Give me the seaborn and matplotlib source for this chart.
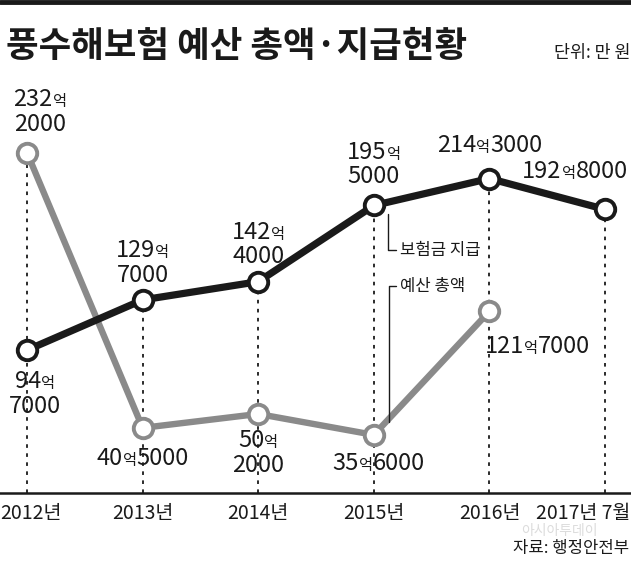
import numpy as np
import pandas as pd
import matplotlib.pyplot as plt
import matplotlib.transforms as mtransforms
import seaborn as sns
from matplotlib.offsetbox import TextArea, HPacker, VPacker, AnnotationBbox
from matplotlib.lines import Line2D

# data (unit: 억 원)
years = ['2012년', '2013년', '2014년', '2015년', '2016년', '2017년 7월']
payout = [94.7, 129.7, 142.4, 195.5, 214.3, 192.8]
budget = [232.2, 40.5, 50.2, 35.6, 121.7, np.nan]

df = pd.DataFrame({'x': range(len(years)), 'payout': payout, 'budget': budget})

sns.set_style('white')
plt.rcParams['font.family'] = ['Liberation Sans Narrow', 'Noto Sans CJK KR', 'DejaVu Sans']

fig = plt.figure(figsize=(6.31, 5.62), dpi=100)
ax = fig.add_axes([0, 1 - 493 / 562, 1, (493 - 90) / 562])

BLACK = '#1a1a1a'
GRAY = '#8a8a8a'

# dotted drop lines
for i in df.index:
    top = np.nanmax([df.payout[i], df.budget[i]])
    ax.plot([i, i], [-4.9, top], ls=(0, (2, 3)), color=BLACK, lw=1.3, zorder=1)

sns.lineplot(data=df, x='x', y='budget', color=GRAY, lw=4.6, ax=ax, zorder=2,
             marker='o', markersize=14, markerfacecolor='white',
             markeredgecolor=GRAY, markeredgewidth=2.8)
sns.lineplot(data=df, x='x', y='payout', color=BLACK, lw=5.2, ax=ax, zorder=3,
             marker='o', markersize=14, markerfacecolor='white',
             markeredgecolor=BLACK, markeredgewidth=2.8)

ax.set_xlim(-0.234, 5.225)
ax.set_ylim(-4.9, 276)
ax.set_xlabel('')
ax.set_ylabel('')
ax.set_yticks([])
ax.set_xticks(range(len(years)))
ax.set_xticklabels(years, fontsize=14, color=BLACK)
ax.tick_params(axis='x', length=0, pad=7)
labels = ax.get_xticklabels()
labels[0].set_horizontalalignment('left')
labels[0].set_transform(labels[0].get_transform() +
                        mtransforms.ScaledTranslation(-27 / 100, 0, fig.dpi_scale_trans))
labels[-1].set_horizontalalignment('right')
labels[-1].set_transform(labels[-1].get_transform() +
                         mtransforms.ScaledTranslation(25 / 100, 0, fig.dpi_scale_trans))
for s in ['top', 'left', 'right']:
    ax.spines[s].set_visible(False)
ax.spines['bottom'].set_linewidth(1.8)
ax.spines['bottom'].set_color(BLACK)


def value_label(x, y, val, dx, dy, two_lines):
    big = int(val)
    rest = int(round((val - big) * 10000))
    p_big = dict(fontsize=17, color=BLACK)
    p_small = dict(fontsize=11, color=BLACK)
    first = [TextArea(str(big), textprops=p_big), TextArea('억', textprops=p_small)]
    if two_lines:
        box = VPacker(children=[HPacker(children=first, align='baseline', pad=0, sep=0),
                                TextArea(str(rest), textprops=p_big)],
                      align='center', pad=0, sep=1)
    else:
        box = HPacker(children=first + [TextArea(str(rest), textprops=p_big)],
                      align='baseline', pad=0, sep=0)
    ab = AnnotationBbox(box, (x, y), xybox=(dx / 1.389, -dy / 1.389),
                        xycoords='data', boxcoords='offset points',
                        frameon=False, box_alignment=(0.5, 0.5), zorder=0)
    ax.add_artist(ab)


# (dx, dy in pixels, two lines)
payout_pos = [(8, 44, True), (0, -37, True), (0, -37, True),
              (0, -41, True), (0, -33, False), (-30, -38, False)]
budget_pos = [(13, -41, True), (0, 31, False), (0, 39, True),
              (5, 29, False), (48, 35, False)]

for i, (dx, dy, two) in enumerate(payout_pos):
    value_label(i, payout[i], payout[i], dx, dy, two)
for i, (dx, dy, two) in enumerate(budget_pos):
    value_label(i, budget[i], budget[i], dx, dy, two)


def fig_xy(px, py):
    return px / 631, 1 - py / 562


# series callouts
fig.add_artist(Line2D(*zip(fig_xy(388, 214), fig_xy(388, 250), fig_xy(396, 250)),
                      color=BLACK, lw=1))
fig.text(*fig_xy(400, 250), '보험금 지급', fontsize=12, va='center', color=BLACK)
fig.add_artist(Line2D(*zip(fig_xy(389, 422), fig_xy(389, 286), fig_xy(396, 286)),
                      color=BLACK, lw=1))
fig.text(*fig_xy(400, 286), '예산 총액', fontsize=12, va='center', color=BLACK)

# title, band and notes
fig.add_artist(Line2D([0, 1], [1 - 1.5 / 562] * 2, color=BLACK, lw=3.5))
fig.text(*fig_xy(6, 46), '풍수해보험 예산 총액·지급현황', fontsize=25.5,
         fontweight='heavy', va='center', color=BLACK,
         family=['Noto Sans CJK KR'])
fig.text(*fig_xy(630, 53), '단위: 만 원', fontsize=12.5, ha='right', va='center',
         color=BLACK)
fig.text(*fig_xy(598, 531), '아시아투데이', fontsize=10, ha='right', va='center',
         color='#dcdcdc')
fig.text(*fig_xy(629, 549), '자료: 행정안전부', fontsize=12, ha='right',
         va='center', color=BLACK)

fig.savefig('out.png', dpi=100)
